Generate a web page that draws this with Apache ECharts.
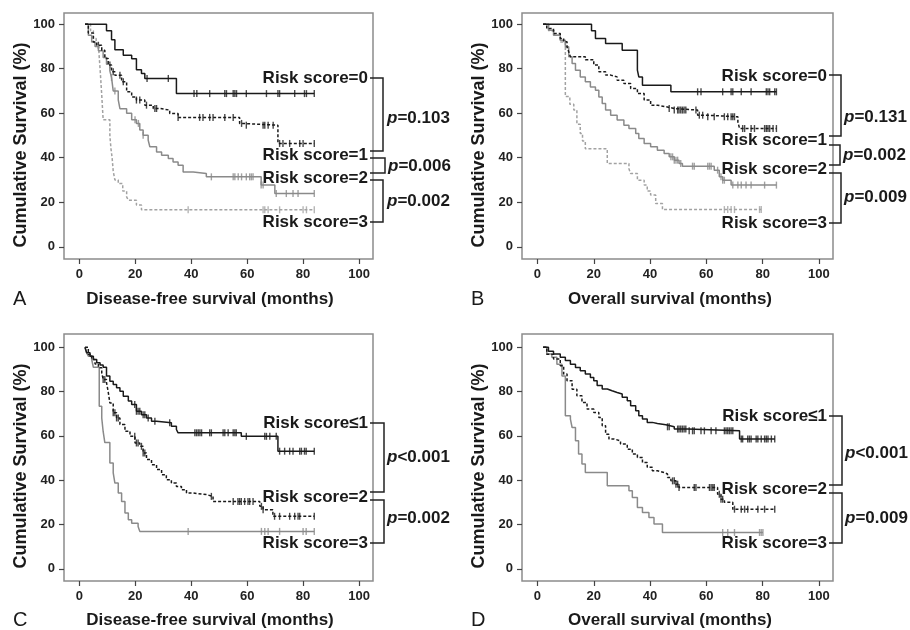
<!DOCTYPE html>
<html>
<head>
<meta charset="utf-8">
<title>Risk score survival</title>
<script src="https://cdn.jsdelivr.net/npm/echarts@6/dist/echarts.min.js"></script>
<style>
	html, body { margin: 0; padding: 0; background: #fff; }
	#chart { width: 910px; height: 630px; }
</style>
</head>
<body>
<div id="chart"></div>
<script>
// tick labels
var xTicks = [0, 20, 40, 60, 80, 100];
var yTicks = [0, 20, 40, 60, 80, 100];

// A: disease-free survival, steps [month, survival %] and censored months
var aRisk0 = [[2,100],[9.7,97],[11.5,93],[12.7,88.5],[15.7,86],[18.7,84.5],[20.4,79.5],[22.2,77.8],[23.4,75.6],[34.7,68.8]];
var aRisk0Cens = [24.2,31.8,41,42,46.6,52,52.6,55,55.6,56.2,59.7,66.9,71,71.6,77,80.5,81.2,84];
var aRisk1 = [[2,100],[3.2,96],[5,92],[6.2,90.5],[8,88.3],[9.1,84.6],[10.3,81.6],[11.5,78.6],[12.7,77],[15.1,74.1],[16.9,69.6],[18.7,67.3],[20.4,65.9],[23.4,63.6],[26.4,62.1],[28.8,61.4],[32.3,59.9],[35.3,58.1],[57.3,55.4],[58.5,54.6],[71,46.4]];
var aRisk1Cens = [6.8,10.9,12.1,14.5,15.7,20.4,21.6,24,27,27.6,35.3,43,44.2,46.6,47.8,52,55,58,59.7,65.7,66.3,67.5,69.3,71.6,72.8,75.2,78.8,80,84];
var aRisk2 = [[2,100],[3.2,95],[4.4,92],[5.6,90],[6.8,88],[8.5,85],[9.7,82],[10.9,79],[11.5,76],[12.1,70],[13.9,66],[14.5,62],[16.9,60],[18.7,57],[20.4,55.4],[21.6,52.4],[22.8,50.1],[24.6,47.9],[25.2,44.9],[27.6,42.6],[29.4,41.1],[31.8,39.6],[33.5,38.1],[35.3,36.6],[37.1,33.6],[40.7,32.9],[45.4,31.4],[65,27.7],[69.9,23.9]];
var aRisk2Cens = [11.5,12.7,19.9,21.1,22.8,47.2,55,55.6,56.8,58,59.7,60.9,61.5,62.1,65,65.7,70.4,74,76.4,78.2,84];
var aRisk3 = [[2,100],[4,97],[5,93.5],[6,91],[7,87],[7.5,78],[8,68],[8.5,57],[10.9,50],[11.3,44],[11.7,40],[12.1,34],[12.7,30],[13.9,28.4],[15.5,25],[16.9,22.4],[17.5,20.9],[20.4,18.7],[22.2,16.6]];
var aRisk3Cens = [38.9,65.7,66.3,67.5,71.6,80,81.2,84];

// B: overall survival
var bRisk0 = [[2,100],[19.2,97],[20.6,93.6],[24.2,91.3],[30.1,88.3],[35.5,79.3],[36,76.3],[37.3,72.6],[47.4,69.6]];
var bRisk0Cens = [56.9,58.1,65.8,68.8,69.4,72.4,75.9,81.3,81.9,82.5,84.3,84.9];
var bRisk1 = [[2,100],[3.3,98],[5.7,95.8],[8.1,93.6],[9.3,92.1],[10.5,89.8],[11.1,87.6],[11.7,85.3],[17,84],[20,81.6],[21.8,78.6],[24.2,77.1],[26,76.3],[28.3,74.8],[30.7,73.3],[33.1,71.1],[35.5,68.8],[37.9,65.9],[40.2,63.6],[42.6,62.9],[45.6,62.1],[48.6,61.4],[56.9,59.1],[59.9,58.4],[71.2,56.1],[71.8,53.1]];
var bRisk1Cens = [46.8,48.6,49.8,50.3,50.9,51.5,52.1,52.7,56.3,57.5,58.7,60.5,62.8,66.4,67.6,68.8,69.4,70,72.9,73.6,75.9,77.1,80.7,81.3,81.9,82.5,83.7,84.9];
var bRisk2 = [[2,100],[3.9,97.3],[5.7,95],[8.1,92.8],[9.9,89.8],[11.1,85.3],[12.3,82.3],[13.5,79.3],[15.2,76.3],[17,74.1],[18.8,71.8],[20.6,70.3],[21.8,67.3],[23,64.4],[24.2,61.4],[26,59.1],[28.3,56.9],[30.7,54.6],[32.5,53.1],[34.9,50.9],[36,48.6],[37.9,46.4],[40.2,44.9],[42.6,43.4],[45,41.9],[46.8,40.4],[48.6,38.9],[50.3,37.4],[51.5,36.2],[62.8,34.4],[64.6,31.4],[65.8,29.9],[68.8,27.7]];
var bRisk2Cens = [47.4,48,48.6,49.2,49.8,50.9,55.1,55.7,60.5,61.1,61.7,64,65.2,65.8,66.4,69.4,71.2,72.4,74.1,75.9,80.7,84.9];
var bRisk3 = [[2,100],[4,97],[6,95],[8,92],[9.9,67.5],[11.5,64],[12.9,61.4],[14,55],[15.2,50.9],[16,47.5],[17,44],[24.8,37.4],[32.5,35],[33.1,32.9],[35.5,29.9],[37.9,27.7],[39,25],[40.2,23.2],[42,19.4],[44.4,16.7]];
var bRisk3Cens = [66.4,67.6,68.8,70,78.9,79.5];

// C: disease-free survival, merged groups
var cRisk1 = [[2,100],[2.6,97.5],[3.8,96],[5,94.5],[6.2,93],[7.4,92],[8.5,91],[9.7,87],[10.9,84.7],[12.1,83.2],[13.3,81.7],[14.5,80.2],[15.7,77.9],[17.5,75.7],[18.7,74.2],[20.4,71.1],[22.2,69.6],[24,68.1],[25.8,66.6],[27.6,65.9],[32.9,64.4],[34.7,62.9],[35.3,61.4],[57.9,59.8],[71,53.1]];
var cRisk1Cens = [19.8,20.4,21,21.6,22.8,23.4,24.6,27,32.3,41.3,41.9,42.5,43.1,43.7,46.6,47.2,51.4,52,53.2,55,55.6,56.1,59.7,66.3,66.9,68.1,70.4,71.6,73.4,75.2,76.4,78.8,79.4,80.5,81.1,84];
var cRisk2 = [[2,100],[3.2,96.8],[4.4,94.5],[5.6,92.5],[6.8,90.8],[8,88.5],[8.5,85.5],[9.7,84],[10.3,80],[10.9,74.9],[12.1,70.4],[13.3,68.1],[14.5,65.1],[16.3,62.1],[18.1,59.8],[19.9,56.8],[21.6,55.3],[22.8,52.3],[24,49.3],[25.8,47],[27.6,44.8],[29.4,42.5],[31.1,40.2],[32.9,38.7],[34.7,37.2],[36.5,35.7],[38.3,34.2],[40.7,33.5],[45.4,32.7],[47.8,30.4],[64.5,28.2],[65.7,26.7],[69.2,23.7]];
var cRisk2Cens = [8.5,9.1,12.1,12.7,13.3,13.9,19.8,20.4,21,22.2,22.8,23.4,47.2,55,56.7,57.3,57.9,59.1,60.3,60.9,62.1,65.1,65.7,69.8,71.6,75.2,77,78.2,78.8,84];
var cRisk3 = [[2,100],[2.6,97.5],[3.2,96],[4.4,94.5],[5,91],[7.1,73.4],[8,68],[8.5,62],[9.1,57],[10.9,47.8],[12.1,43.3],[12.7,38.7],[13.9,34.2],[15.1,30.4],[16.3,25.2],[17.5,22.1],[18.7,20.6],[21,19.1],[21.6,16.9]];
var cRisk3Cens = [38.9,65.1,66.3,67.5,71.6,80,81.1,84];

// D: overall survival, merged groups
var dRisk1 = [[2,100],[3.9,98.2],[5.7,97],[8.1,95.5],[9.9,94],[11.7,92.4],[13.5,90.9],[15.2,89.4],[17,87.9],[18.8,86.4],[20,84.9],[21.2,82.7],[23,81.2],[24.8,80.4],[26.5,79.6],[28.3,78.9],[30.1,77.4],[31.9,75.9],[33.1,73.6],[34.9,71.4],[36,69.1],[37.3,67.6],[39,66.1],[40.8,65.6],[42.6,65],[45.6,64.1],[48.6,63.1],[53.3,62.3],[71.8,58.6]];
var dRisk1Cens = [46.2,46.8,49.8,50.3,50.9,51.5,52.1,52.7,53.9,55.1,55.7,58.1,59.3,61.7,63.4,66.4,67,67.6,68.2,68.8,69.4,72.4,72.9,74.7,75.3,75.9,77.7,78.3,79.5,80.7,81.3,81.9,83.1,84.3];
var dRisk2 = [[2,100],[3.3,96.9],[5.7,94.7],[8.1,91.7],[9.3,87.9],[10.5,84.9],[12.3,81.1],[14,78.1],[15.8,75.1],[17.6,72.1],[20,70.6],[21.8,68.3],[23,64.6],[24.2,60.8],[25.4,58.6],[27.2,57.8],[29.5,56.3],[31.9,54],[33.7,51.8],[35.5,50.3],[37.3,48],[39,45.8],[40.8,44.3],[42.6,43.5],[45,42.8],[46.2,41.2],[47.4,39.7],[49.2,38.2],[50.3,36.7],[64,33.7],[65.2,31.4],[66.4,30],[69.4,26.9]];
var dRisk2Cens = [48,48.6,49.2,49.8,50.3,55.7,56.3,61.1,61.7,62.3,62.8,64.6,65.2,65.8,70,72.4,73.6,74.7,78.3,80.7,84.3];
var dRisk3 = [[2,100],[3.3,97],[5.1,95.5],[6.9,92.4],[8.7,87],[9.9,69.1],[11.7,67.6],[12.3,63.8],[13.5,57.8],[14.6,51.8],[15.8,47.3],[17,43.5],[24.8,37.5],[32.5,35.2],[33.7,32.2],[35.5,27.7],[37.3,25.4],[39.6,23.2],[41.4,20.2],[44.4,16.4]];
var dRisk3Cens = [65.8,67.6,70,78.9,79.5,80.1];

// labels
var panelLetters = ['A', 'B', 'C', 'D'];
var xNames = ['Disease-free survival (months)', 'Overall survival (months)', 'Disease-free survival (months)', 'Overall survival (months)'];
var yName = 'Cumulative Survival (%)';
var groupLabelsTop = ['Risk score=0', 'Risk score=1', 'Risk score=2', 'Risk score=3'];
var groupLabelsBottom = ['Risk score\u22641', 'Risk score=2', 'Risk score=3'];
var pValues = [['=0.103', '=0.006', '=0.002'], ['=0.131', '=0.002', '=0.009'], ['<0.001', '=0.002'], ['<0.001', '=0.009']];

var FONT = '"Liberation Sans", Arial, sans-serif';
var BLACK = '#1a1a1a';
var GREY = '#8a8a8a';
var LIGHT = '#a2a2a2';

// line styles per curve kind
var styles = {
	blackSolid: { color: BLACK, type: 'solid' },
	blackDash: { color: BLACK, type: [3, 2] },
	greySolid: { color: GREY, type: 'solid' },
	greyDash: { color: LIGHT, type: [3, 2] }
};

var panelCurves = [
	[[aRisk3, aRisk3Cens, 'greyDash'], [aRisk2, aRisk2Cens, 'greySolid'], [aRisk1, aRisk1Cens, 'blackDash'], [aRisk0, aRisk0Cens, 'blackSolid']],
	[[bRisk3, bRisk3Cens, 'greyDash'], [bRisk2, bRisk2Cens, 'greySolid'], [bRisk1, bRisk1Cens, 'blackDash'], [bRisk0, bRisk0Cens, 'blackSolid']],
	[[cRisk3, cRisk3Cens, 'greySolid'], [cRisk2, cRisk2Cens, 'blackDash'], [cRisk1, cRisk1Cens, 'blackSolid']],
	[[dRisk3, dRisk3Cens, 'greySolid'], [dRisk2, dRisk2Cens, 'blackDash'], [dRisk1, dRisk1Cens, 'blackSolid']]
];

// panel boxes
var grids = [
	{ left: 64, top: 13, width: 309, height: 246, yMax: 105 },
	{ left: 522, top: 13, width: 311, height: 246, yMax: 105 },
	{ left: 64, top: 334, width: 309, height: 247, yMax: 106 },
	{ left: 522, top: 334, width: 311, height: 247, yMax: 106 }
];

function survAt(steps, t) {
	var v = steps[0][1];
	for (var i = 0; i < steps.length; i++) {
		if (steps[i][0] <= t) v = steps[i][1];
	}
	return v;
}

var option = {
	backgroundColor: '#fff',
	animation: false,
	grid: [],
	xAxis: [],
	yAxis: [],
	series: [],
	graphic: []
};

grids.forEach(function (g, i) {
	option.grid.push({
		left: g.left, top: g.top, width: g.width, height: g.height,
		show: true, borderColor: '#8c8c8c', borderWidth: 1.5
	});
	var tickStyle = { show: true, length: 5, lineStyle: { color: '#444', width: 1.2 } };
	var labelStyle = { fontFamily: FONT, fontWeight: 'bold', fontSize: 13, color: '#222', margin: 9 };
	option.xAxis.push({
		type: 'value', gridIndex: i, min: -5.5, max: 105,
		splitLine: { show: false },
		axisLine: { show: false, onZero: false },
		axisTick: Object.assign({ customValues: xTicks }, tickStyle),
		axisLabel: Object.assign({ customValues: xTicks }, labelStyle)
	});
	option.yAxis.push({
		type: 'value', gridIndex: i, min: -5.5, max: g.yMax,
		splitLine: { show: false },
		axisLine: { show: false, onZero: false },
		axisTick: Object.assign({ customValues: yTicks }, tickStyle),
		axisLabel: Object.assign({ customValues: yTicks }, labelStyle)
	});

	panelCurves[i].forEach(function (c) {
		var steps = c[0], cens = c[1], st = styles[c[2]];
		var lineData = steps.slice();
		var lastT = cens[cens.length - 1];
		if (lastT > steps[steps.length - 1][0]) {
			lineData.push([lastT, steps[steps.length - 1][1]]);
		}
		option.series.push({
			type: 'line', xAxisIndex: i, yAxisIndex: i,
			step: 'end', showSymbol: false, silent: true,
			lineStyle: { color: st.color, width: 1.5, type: st.type },
			data: lineData
		});
		option.series.push({
			type: 'scatter', xAxisIndex: i, yAxisIndex: i, silent: true,
			symbol: 'rect', symbolSize: [1.4, 7],
			itemStyle: { color: st.color },
			data: cens.map(function (t) { return [t, survAt(steps, t)]; })
		});
	});
});

// text and brackets at the side of each panel
function addText(text, x, y, font, align, rot) {
	option.graphic.push({
		type: 'text', x: x, y: y, rotation: rot || 0, silent: true,
		style: { text: text, font: font, fill: BLACK, align: align || 'left', verticalAlign: 'middle' }
	});
}
function addP(val, x, y) {
	option.graphic.push({
		type: 'text', x: x, y: y, silent: true,
		style: {
			text: '{i|p}{b|' + val + '}', fill: BLACK, align: 'left', verticalAlign: 'middle',
			rich: {
				i: { font: 'italic bold 17px ' + FONT, fill: BLACK },
				b: { font: 'bold 17px ' + FONT, fill: BLACK }
			}
		}
	});
}
function addBracket(x0, xb, y1, y2) {
	option.graphic.push({
		type: 'polyline', silent: true,
		shape: { points: [[x0, y1], [xb, y1], [xb, y2], [x0, y2]] },
		style: { stroke: '#222', lineWidth: 1.5, fill: null }
	});
}

var LABEL_FONT = 'bold 17px ' + FONT;
var XNAME_FONT = 'bold 17px ' + FONT;
var YNAME_FONT = 'bold 18px ' + FONT;
var LETTER_FONT = '20px ' + FONT;

// panel A
addText(groupLabelsTop[0], 368, 78, LABEL_FONT, 'right');
addText(groupLabelsTop[1], 368, 155, LABEL_FONT, 'right');
addText(groupLabelsTop[2], 368, 178, LABEL_FONT, 'right');
addText(groupLabelsTop[3], 368, 222, LABEL_FONT, 'right');
addBracket(370, 383, 78, 151);
addBracket(370, 385, 158, 173);
addBracket(370, 383, 180, 222);
addP(pValues[0][0], 387, 118);
addP(pValues[0][1], 388, 166);
addP(pValues[0][2], 387, 201);

// panel B
addText(groupLabelsTop[0], 827, 76, LABEL_FONT, 'right');
addText(groupLabelsTop[1], 827, 140, LABEL_FONT, 'right');
addText(groupLabelsTop[2], 827, 169, LABEL_FONT, 'right');
addText(groupLabelsTop[3], 827, 223, LABEL_FONT, 'right');
addBracket(829, 841, 75, 136);
addBracket(829, 840, 145, 165);
addBracket(829, 841, 173, 223);
addP(pValues[1][0], 844, 117);
addP(pValues[1][1], 843, 155);
addP(pValues[1][2], 844, 197);

// panel C
addText(groupLabelsBottom[0], 368, 423, LABEL_FONT, 'right');
addText(groupLabelsBottom[1], 368, 497, LABEL_FONT, 'right');
addText(groupLabelsBottom[2], 368, 543, LABEL_FONT, 'right');
addBracket(370, 384, 423, 492);
addBracket(370, 384, 500, 543);
addP(pValues[2][0], 387, 457);
addP(pValues[2][1], 387, 518);

// panel D
addText(groupLabelsBottom[0], 827, 416, LABEL_FONT, 'right');
addText(groupLabelsBottom[1], 827, 489, LABEL_FONT, 'right');
addText(groupLabelsBottom[2], 827, 543, LABEL_FONT, 'right');
addBracket(829, 842, 416, 485);
addBracket(829, 842, 493, 543);
addP(pValues[3][0], 845, 453);
addP(pValues[3][1], 845, 518);

// axis names and panel letters
var nameSpots = [[21, 145, 210, 299, 13, 299], [479, 145, 670, 299, 471, 299], [21, 466, 210, 620, 13, 620], [479, 466, 670, 620, 471, 620]];
nameSpots.forEach(function (s, i) {
	addText(yName, s[0], s[1], YNAME_FONT, 'center', Math.PI / 2);
	addText(xNames[i], s[2], s[3], XNAME_FONT, 'center');
	addText(panelLetters[i], s[4], s[5], LETTER_FONT, 'left');
});

var myChart = echarts.init(document.getElementById('chart'));
myChart.setOption(option);
</script>
</body>
</html>
